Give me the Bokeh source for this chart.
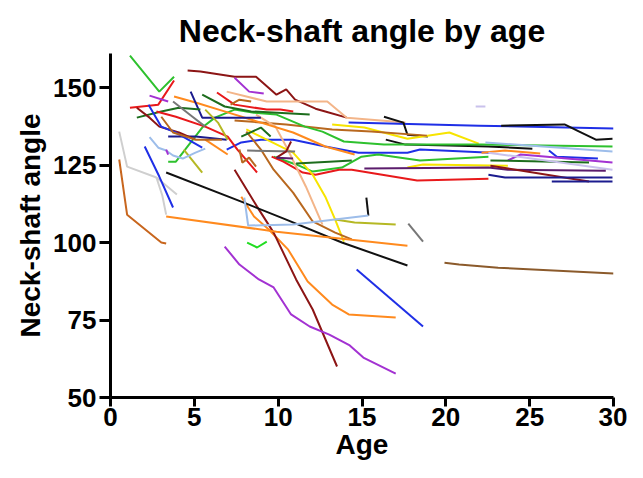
from bokeh.plotting import figure
from bokeh.models import ColumnDataSource, Range1d, FixedTicker
from bokeh.embed import file_html
from bokeh.resources import INLINE

# ---- data: age (years) and neck-shaft angle (degrees) per subject ----
age_01 = [1.16, 2.91, 3.79];                ang_01 = [160.3, 148.7, 153.5]
age_02 = [1.16, 2.85, 3.79];                ang_02 = [143.5, 144.5, 152.3]
age_03 = [4.6, 5.36, 7.4, 8.68, 9.9, 10.48, 11.01, 12.23, 12.81, 14.09]
ang_03 = [155.5, 155.2, 153.5, 153.5, 147.7, 149.4, 146.1, 143.2, 142.3, 140.3]
age_04 = [7.4, 8.27, 9.14];                 ang_04 = [153.2, 148.7, 148.1]
age_05 = [2.33, 3.44];                      ang_05 = [147.4, 145.5]
age_06 = [6.93, 9.32, 12.93, 14.09, 17.59]; ang_06 = [148.7, 145.5, 145.5, 140.3, 138.7]
age_07 = [14.2, 22.0, 30.0];                ang_07 = [138.7, 137.7, 136.8]
age_08 = [16.31, 17.47, 17.71, 18.93];      ang_08 = [140.6, 138.7, 134.8, 134.2]
age_09 = [23.3, 27.08, 27.96, 28.95, 29.94]; ang_09 = [137.7, 138.1, 135.8, 133.2, 133.5]
age_10 = [13.22, 15.14, 17.71, 20.21, 21.96]; ang_10 = [138.1, 137.1, 133.5, 135.5, 131.9]
age_11 = [7.4, 10.48, 13.22, 15.55, 18.87]; ang_11 = [139.4, 138.1, 136.5, 135.8, 134.5]
age_12 = [16.42, 17.59, 20.21, 22.54, 25.16]; ang_12 = [133.2, 131.6, 131.3, 131.0, 130.3]
age_13 = [3.44, 3.9, 4.6, 5.47, 6.23, 7.4, 8.56, 9.9, 11.59, 12.64, 13.92, 16.31, 22.13, 29.94]
ang_13 = [126.1, 126.1, 131.0, 137.1, 140.3, 142.9, 141.9, 141.3, 137.4, 135.8, 132.6, 131.6, 131.6, 131.0]
age_14 = [22.36, 29.94];                    ang_14 = [132.3, 129.4]
age_15 = [6.93, 7.8, 8.97, 10.89, 12.81, 14.79, 17.71, 18.46, 22.71]
ang_15 = [130.0, 132.3, 133.2, 133.2, 131.0, 129.0, 129.0, 130.0, 129.0]
age_16 = [3.44, 5.07, 6.93];                ang_16 = [134.2, 134.2, 133.2]
age_17 = [22.13, 23.53, 25.63];             ang_17 = [129.0, 129.7, 128.7]
age_18 = [26.15, 26.62, 29.07];             ang_18 = [129.7, 127.7, 127.1]
age_19 = [23.7, 24.46, 26.03, 29.94];       ang_19 = [126.5, 128.4, 127.7, 125.8]
age_20 = [22.66, 28.54];                    ang_20 = [126.5, 125.8]
age_21 = [22.54, 29.94];                    ang_21 = [129.0, 123.5]
age_22 = [9.73, 11.07, 12.06, 13.8, 14.97, 15.96, 18.46, 22.54]
ang_22 = [127.7, 125.2, 122.9, 124.2, 127.7, 128.4, 126.5, 127.7]
age_23 = [17.71, 18.64, 23.7];              ang_23 = [124.2, 125.2, 124.8]
age_24 = [15.14, 22.54, 23.7, 29.54];       ang_24 = [123.9, 124.2, 123.5, 123.2]
age_25 = [9.61, 10.31, 11.47, 12.23, 13.63, 14.39, 18.29, 22.54]
ang_25 = [127.7, 126.1, 122.6, 121.9, 123.5, 123.5, 120.0, 120.6]
age_26 = [22.66, 28.54];                    ang_26 = [124.8, 119.7]
age_27 = [22.54, 23.53, 29.94];             ang_27 = [121.9, 121.0, 121.0]
age_28 = [26.32, 29.94];                    ang_28 = [119.7, 119.7]
age_29 = [21.78, 22.36];                    ang_29 = [143.9, 143.9]
age_30 = [15.26, 15.38];                    ang_30 = [114.5, 108.7]
age_31 = [17.76, 18.64];                    ang_31 = [106.1, 100.3]
age_32 = [8.1, 9.32, 10.89, 12.06, 12.81, 13.4, 13.92]
ang_32 = [136.5, 133.2, 129.0, 121.9, 114.8, 107.4, 100.3]
age_33 = [8.1, 8.97, 9.73, 10.89, 12.06, 13.4, 14.39]
ang_33 = [135.8, 130.0, 123.5, 116.1, 106.8, 103.2, 101.0]
age_34 = [8.68, 9.84, 10.48, 11.65, 12.64]; ang_34 = [141.3, 137.4, 131.0, 118.1, 105.8]
age_35 = [7.8, 8.56, 9.44, 10.6, 11.76, 13.22, 14.21, 17.01]
ang_35 = [114.8, 108.4, 104.2, 97.7, 87.4, 80.0, 76.8, 75.8]
age_36 = [7.4, 8.74, 9.73, 11.07, 12.06, 13.51]
ang_36 = [123.5, 111.6, 103.2, 88.1, 78.4, 60.0]
age_37 = [6.81, 7.69, 8.85, 9.73, 10.77, 11.88, 13.05, 14.27, 15.08, 17.01]
ang_37 = [98.7, 92.9, 88.1, 85.5, 76.8, 72.9, 70.3, 66.8, 62.9, 57.7]
age_38 = [8.15, 8.74, 9.32];                ang_38 = [100.0, 98.4, 100.3]
age_39 = [14.68, 18.64];                    ang_39 = [91.3, 72.9]
age_40 = [3.32, 7.8, 10.48, 13.8, 17.71];   ang_40 = [122.6, 113.2, 107.4, 100.0, 92.6]
age_41 = [3.32, 9.9, 17.71];                ang_41 = [108.4, 103.5, 99.0]
age_42 = [0.52, 0.99, 3.03, 3.32];          ang_42 = [126.8, 109.0, 100.0, 99.7]
age_43 = [0.52, 0.99, 2.74, 3.96];          ang_43 = [135.8, 124.5, 121.0, 115.5]
age_44 = [2.74, 3.09, 3.32];                ang_44 = [121.0, 115.2, 109.0]
age_45 = [2.04, 2.91, 3.73];                ang_45 = [131.0, 121.3, 111.3]
age_46 = [4.37, 5.47];                      ang_46 = [130.0, 122.6]
age_47 = [13.4, 14.56, 17.01];              ang_47 = [107.4, 106.5, 105.8]
age_48 = [2.33, 2.85, 3.32, 3.73, 4.31, 5.07, 5.65]
ang_48 = [134.0, 130.6, 129.7, 128.1, 127.1, 129.0, 130.3]
age_49 = [7.98, 8.21, 10.89, 15.38];        ang_49 = [114.5, 105.5, 105.8, 108.7]
age_50 = [19.92, 20.79, 23.12, 30.0];       ang_50 = [93.5, 92.9, 91.9, 90.0]
age_51 = [3.79, 5.07, 6.99, 8.97, 10.89, 12.81, 14.56]
ang_51 = [147.1, 145.2, 142.0, 138.7, 135.5, 131.0, 128.4]
age_52 = [4.78, 5.47, 8.97];                ang_52 = [148.7, 140.3, 140.3]
age_53 = [5.47, 6.81, 8.39, 11.88];         ang_53 = [147.7, 143.9, 142.3, 141.3]
age_54 = [6.35, 7.4, 9.32, 10.13, 10.9];    ang_54 = [148.4, 144.5, 142.9, 142.9, 142.3]
age_55 = [7.16, 7.69, 8.39];                ang_55 = [144.5, 146.1, 145.5]
age_56 = [1.57, 3.03, 4.08, 5.36];          ang_56 = [140.3, 142.3, 143.5, 142.9]
age_57 = [2.74, 3.9, 5.65, 6.99, 7.57, 8.74]; ang_57 = [142.3, 140.6, 137.4, 134.2, 130.0, 122.6]
age_58 = [1.57, 2.33, 2.91, 4.08, 5.07];    ang_58 = [143.5, 140.3, 137.4, 135.5, 133.2]
age_59 = [2.27, 3.03, 3.9, 5.47];           ang_59 = [144.5, 137.4, 135.5, 130.6]
age_60 = [3.73, 4.89, 5.65];                ang_60 = [145.5, 140.6, 137.4]
age_61 = [5.65, 6.99];                      ang_61 = [133.2, 128.4]
age_62 = [7.69, 7.86, 8.27, 8.68];          ang_62 = [130.0, 125.8, 127.4, 124.5]
age_63 = [8.15, 11.01];                     ang_63 = [129.7, 129.4]
age_64 = [9.9, 10.48, 10.77];               ang_64 = [127.4, 129.4, 132.6]
age_65 = [9.9, 10.89];                      ang_65 = [127.4, 127.1]
age_66 = [5.65, 6.41, 6.99];                ang_66 = [142.9, 138.7, 133.2]
age_67 = [7.8, 8.97, 9.55];                 ang_67 = [134.2, 137.1, 134.2]
age_68 = [11.07, 13.05, 14.39];             ang_68 = [125.5, 126.1, 126.5]
age_69 = [3.32, 3.44];                      ang_69 = [130.0, 128.4]
age_70 = [3.03, 3.73, 5.07, 6.64];          ang_70 = [140.6, 135.5, 133.2, 133.2]

ages = [age_01, age_02, age_03, age_04, age_05, age_06, age_07, age_08, age_09, age_10,
        age_11, age_12, age_13, age_14, age_15, age_16, age_17, age_18, age_19, age_20,
        age_21, age_22, age_23, age_24, age_25, age_26, age_27, age_28, age_29, age_30,
        age_31, age_32, age_33, age_34, age_35, age_36, age_37, age_38, age_39, age_40,
        age_41, age_42, age_43, age_44, age_45, age_46, age_47, age_48, age_49, age_50,
        age_51, age_52, age_53, age_54, age_55, age_56, age_57, age_58, age_59, age_60,
        age_61, age_62, age_63, age_64, age_65, age_66, age_67, age_68, age_69, age_70]
angs = [ang_01, ang_02, ang_03, ang_04, ang_05, ang_06, ang_07, ang_08, ang_09, ang_10,
        ang_11, ang_12, ang_13, ang_14, ang_15, ang_16, ang_17, ang_18, ang_19, ang_20,
        ang_21, ang_22, ang_23, ang_24, ang_25, ang_26, ang_27, ang_28, ang_29, ang_30,
        ang_31, ang_32, ang_33, ang_34, ang_35, ang_36, ang_37, ang_38, ang_39, ang_40,
        ang_41, ang_42, ang_43, ang_44, ang_45, ang_46, ang_47, ang_48, ang_49, ang_50,
        ang_51, ang_52, ang_53, ang_54, ang_55, ang_56, ang_57, ang_58, ang_59, ang_60,
        ang_61, ang_62, ang_63, ang_64, ang_65, ang_66, ang_67, ang_68, ang_69, ang_70]

x_ticks = [0, 5, 10, 15, 20, 25, 30]
y_ticks = [50, 75, 100, 125, 150]

# ---- styles ----
GREEN = "#2ec12e"; RED = "#e8191b"; MAROON = "#8c1515"; PURPLE = "#a332d2"
PEACH = "#f3b589"; BLUE = "#1f2fe6"; NAVY = "#1b1b8e"; BLACK = "#111111"
YELLOW = "#f7e400"; BROWN = "#b8681f"; ORANGE = "#ff8a1e"; LBLUE = "#9dbdea"
DGREEN = "#1d6d1d"; LAV = "#c9c1ec"; GRAY = "#cfcfcf"; DGRAY = "#777777"
OLIVE = "#b5b824"; DPURPLE = "#5b1c6c"; OBROWN = "#c8661e"; BOTTOMBR = "#8b5a2b"

colors = [GREEN, RED, MAROON, PURPLE, PURPLE, PEACH, BLUE, BLACK, BLACK, YELLOW,
          BROWN, BLACK, GREEN, LBLUE, BLUE, NAVY, ORANGE, BLUE, PURPLE, DGREEN,
          LAV, GREEN, YELLOW, DPURPLE, RED, MAROON, NAVY, NAVY, LAV, BLACK,
          DGRAY, YELLOW, BROWN, PEACH, ORANGE, MAROON, PURPLE, "#22dd22", BLUE, BLACK,
          ORANGE, OBROWN, GRAY, GRAY, BLUE, OLIVE, OLIVE, LBLUE, LBLUE, BOTTOMBR,
          ORANGE, NAVY, DGREEN, RED, BROWN, DGREEN, RED, MAROON, BLUE, DGRAY,
          ORANGE, BROWN, DGRAY, MAROON, DPURPLE, OLIVE, DGREEN, DGREEN, PURPLE, BROWN]

FONT = "Liberation Sans"

p = figure(width=627, height=462, output_backend="svg", toolbar_location=None,
           x_range=Range1d(0, 30), y_range=Range1d(50, 161),
           min_border_left=110, min_border_right=14, min_border_top=53,
           min_border_bottom=62, title="Neck-shaft angle by age")

for a, g, c in zip(ages, angs, colors):
    src = ColumnDataSource(dict(x=a, y=g))
    p.line("x", "y", source=src, line_color=c, line_width=2)

p.title.align = "center"
p.title.text_font = FONT
p.title.text_font_size = "32px"
p.title.text_font_style = "bold"
p.title.text_color = "black"

p.xgrid.visible = False
p.ygrid.visible = False
p.outline_line_color = None

for ax in (p.xaxis[0], p.yaxis[0]):
    ax.axis_line_width = 3
    ax.axis_line_color = "black"
    ax.major_tick_line_width = 3
    ax.major_tick_line_color = "black"
    ax.major_tick_in = 0
    ax.major_tick_out = 11
    ax.minor_tick_line_color = None
    ax.major_label_text_font = FONT
    ax.major_label_text_font_style = "bold"
    ax.major_label_text_font_size = "26px"
    ax.major_label_text_color = "black"
    ax.axis_label_text_font = FONT
    ax.axis_label_text_font_style = "bold"
    ax.axis_label_text_font_size = "28px"
    ax.axis_label_text_color = "black"

p.xaxis[0].ticker = FixedTicker(ticks=x_ticks)
p.yaxis[0].ticker = FixedTicker(ticks=y_ticks)
p.xaxis[0].axis_label = "Age"
p.yaxis[0].axis_label = "Neck-shaft angle"
p.xaxis[0].major_tick_out = 9
p.xaxis[0].major_label_standoff = 1
p.xaxis[0].axis_label_standoff = 0
p.yaxis[0].major_label_standoff = 3
p.yaxis[0].axis_label_standoff = 4

open("out.html", "w").write(file_html(p, INLINE))
